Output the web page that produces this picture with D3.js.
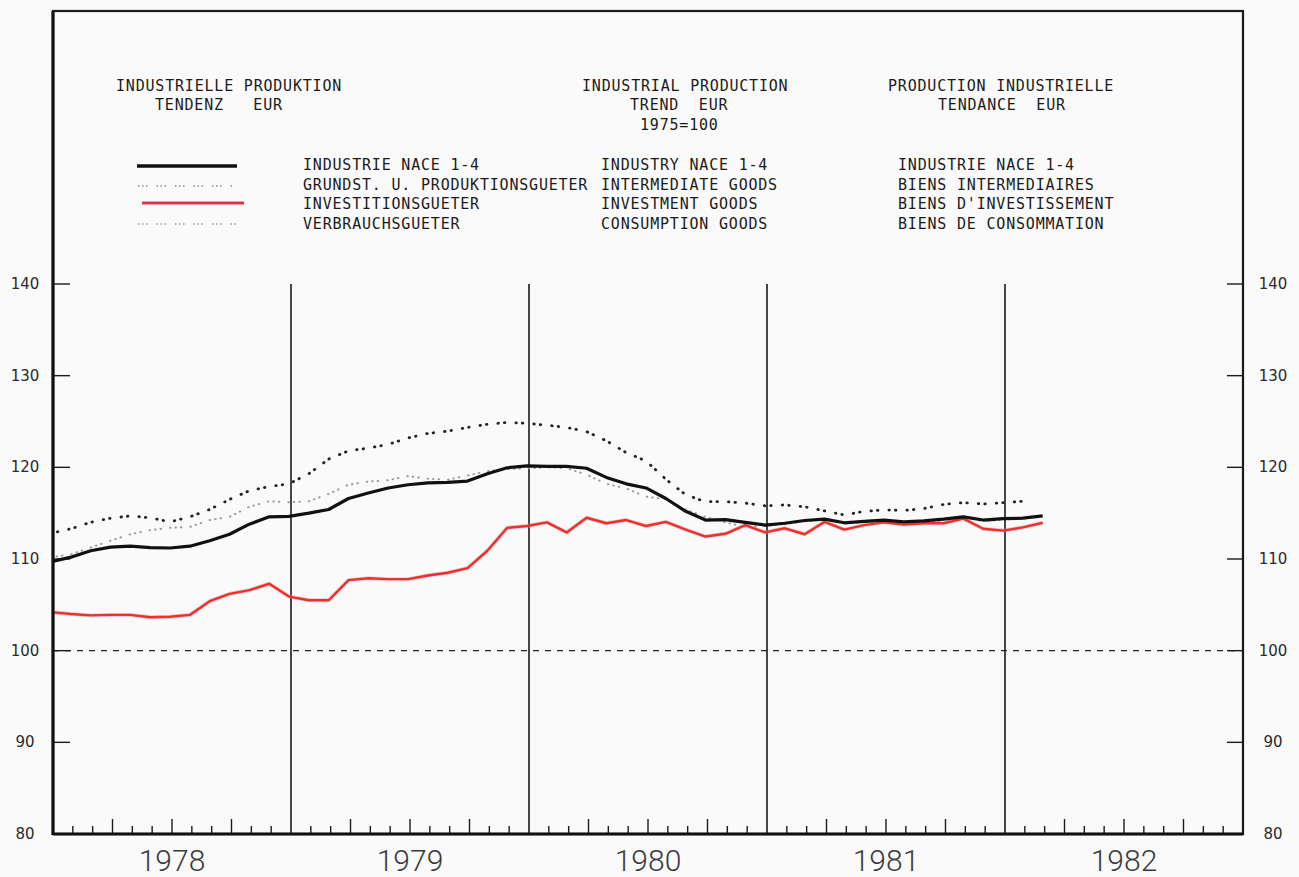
<!DOCTYPE html>
<html>
<head>
<meta charset="utf-8">
<script src="https://cdn.jsdelivr.net/npm/d3@7/dist/d3.min.js"></script>
<style>
  html, body { margin: 0; padding: 0; background: #fafafa; }
  svg { display: block; }
</style>
</head>
<body>
<svg id="chart" width="1299" height="877"></svg>
<script>
// ---------------- DATA ----------------
// Monthly trend index values, Jan 1978 (month 0) .. Mar 1982 (month 50), 1975=100
const industry = [
  109.7,110.2,110.9,111.3,111.4,111.25,111.2,111.4,112.0,112.7,113.8,114.6,
  114.65,115.0,115.4,116.6,117.2,117.75,118.1,118.3,118.35,118.5,119.3,119.95,
  120.15,120.1,120.1,119.9,118.9,118.2,117.75,116.6,115.2,114.25,114.3,114.0,
  113.7,113.9,114.2,114.35,113.95,114.1,114.25,114.05,114.15,114.35,114.6,114.25,
  114.4,114.45,114.7
];
const intermediate = [
  112.8,113.3,114.0,114.45,114.7,114.5,114.05,114.6,115.4,116.5,117.45,117.9,
  118.2,119.3,120.9,121.8,122.1,122.5,123.2,123.7,123.95,124.35,124.7,124.9,
  124.8,124.6,124.35,123.9,122.9,121.6,120.7,118.7,117.0,116.25,116.25,116.1,
  115.8,115.9,115.7,115.25,114.8,115.2,115.35,115.3,115.5,115.95,116.15,116.0,
  116.15,116.3,null
];
const investment = [
  104.2,104.0,103.85,103.9,103.9,103.65,103.7,103.9,105.4,106.2,106.6,107.3,
  105.9,105.5,105.5,107.7,107.9,107.8,107.8,108.2,108.5,109.0,110.9,113.4,
  113.6,114.0,112.9,114.5,113.9,114.25,113.6,114.05,113.2,112.45,112.75,113.7,
  112.9,113.35,112.7,114.05,113.2,113.7,114.0,113.75,113.9,113.9,114.4,113.3,
  113.1,113.45,113.95
];
const consumption = [
  110.2,110.5,111.25,112.0,112.7,113.15,113.4,113.5,114.25,114.6,115.7,116.3,
  116.2,116.3,117.1,118.1,118.45,118.6,119.05,118.75,118.65,119.1,119.6,119.8,
  119.9,120.0,119.9,119.2,118.2,117.7,116.8,116.5,115.4,114.6,114.0,113.5,
  113.6,113.8,114.1,114.3,113.9,114.0,114.1,114.0,114.0,114.2,114.6,114.1,
  114.3,114.4,null
];
const years = ["1978","1979","1980","1981","1982"];
const yTicks = [80, 90, 100, 110, 120, 130, 140];

const titleDE = ["INDUSTRIELLE PRODUKTION", "TENDENZ   EUR"];
const titleEN = ["INDUSTRIAL PRODUCTION", "TREND  EUR", "1975=100"];
const titleFR = ["PRODUCTION INDUSTRIELLE", "TENDANCE  EUR"];
const legendDE = ["INDUSTRIE NACE 1-4", "GRUNDST. U. PRODUKTIONSGUETER", "INVESTITIONSGUETER", "VERBRAUCHSGUETER"];
const legendEN = ["INDUSTRY NACE 1-4", "INTERMEDIATE GOODS", "INVESTMENT GOODS", "CONSUMPTION GOODS"];
const legendFR = ["INDUSTRIE NACE 1-4", "BIENS INTERMEDIAIRES", "BIENS D'INVESTISSEMENT", "BIENS DE CONSOMMATION"];

// ---------------- LAYOUT ----------------
const L = 53, R = 1243, T = 11, B = 834;
const svg = d3.select("#chart");
const x = d3.scaleLinear().domain([0, 60]).range([L, R]);
const y = d3.scaleLinear().domain([80, 140]).range([B, 284]);
const shift = -0.1;

const plotFont = "'DejaVu Sans Mono', 'Liberation Mono', monospace";

// clip
svg.append("defs").append("clipPath").attr("id", "clip")
  .append("rect").attr("x", L).attr("y", T).attr("width", R - L).attr("height", B - T);

// 100 reference dashed line
svg.append("line").attr("x1", L).attr("x2", R).attr("y1", y(100)).attr("y2", y(100))
  .attr("stroke", "#222").attr("stroke-width", 1.2).attr("stroke-dasharray", "6,6");

// year separators
[12, 24, 36, 48].forEach(m => {
  svg.append("line").attr("x1", x(m)).attr("x2", x(m)).attr("y1", y(140)).attr("y2", B)
    .attr("stroke", "#1a1a1a").attr("stroke-width", 1.6);
});

// x month ticks
const monthTicks = d3.range(1, 60).filter(m => m % 12 !== 0);
svg.append("g").selectAll("line").data(monthTicks).join("line")
  .attr("x1", d => x(d)).attr("x2", d => x(d))
  .attr("y1", B).attr("y2", d => B - (d % 3 === 0 ? 15 : 8))
  .attr("stroke", "#1a1a1a").attr("stroke-width", 1.4);

// y ticks (inward, both sides)
const inner = yTicks.filter(v => v > 80);
svg.append("g").selectAll("line").data(inner).join("line")
  .attr("x1", L).attr("x2", L + 17).attr("y1", d => y(d)).attr("y2", d => y(d))
  .attr("stroke", "#1a1a1a").attr("stroke-width", 1.4);
svg.append("g").selectAll("line").data(inner).join("line")
  .attr("x1", R).attr("x2", R - 16).attr("y1", d => y(d)).attr("y2", d => y(d))
  .attr("stroke", "#1a1a1a").attr("stroke-width", 1.4);

// y labels
const yl = svg.append("g").attr("font-family", "'DejaVu Sans', sans-serif")
  .attr("font-size", 15).attr("fill", "#2a2a2a").attr("text-anchor", "middle");
yl.selectAll("text.l").data(yTicks).join("text").attr("class", "l")
  .attr("x", 25).attr("y", d => y(d) + 5).text(d => d);
yl.selectAll("text.r").data(yTicks).join("text").attr("class", "r")
  .attr("x", 1273).attr("y", d => y(d) + 5).text(d => d);

// year labels
svg.append("g").selectAll("text").data(years).join("text")
  .attr("x", (d, i) => x(i * 12 + 6)).attr("y", 871)
  .attr("text-anchor", "middle").attr("font-family", "Roboto, 'Liberation Sans', sans-serif")
  .attr("font-weight", 300).attr("font-size", 30).attr("fill", "#3a3a3a").text(d => d);

// series
const line = d3.line()
  .defined(d => d !== null)
  .x((d, i) => x(i + shift))
  .y(d => y(d));

const g = svg.append("g").attr("clip-path", "url(#clip)");
g.append("path").datum(consumption).attr("d", line).attr("fill", "none")
  .attr("stroke", "#9a9a9a").attr("stroke-width", 2).attr("stroke-linecap", "round")
  .attr("stroke-dasharray", "0.5,5,0.5,5,0.5,9");
g.append("path").datum(intermediate).attr("d", line).attr("fill", "none")
  .attr("stroke", "#222").attr("stroke-width", 2.8).attr("stroke-linecap", "round")
  .attr("stroke-dasharray", "0.5,6,0.5,11");
g.append("path").datum(investment).attr("d", line).attr("fill", "none")
  .attr("stroke", "#f07aa0").attr("stroke-width", 4).attr("stroke-opacity", 0.4)
  .attr("stroke-linejoin", "round");
g.append("path").datum(investment).attr("d", line).attr("fill", "none")
  .attr("stroke", "#e6342a").attr("stroke-width", 2.4).attr("stroke-linejoin", "round");
g.append("path").datum(industry).attr("d", line).attr("fill", "none")
  .attr("stroke", "#111").attr("stroke-width", 3.2).attr("stroke-linejoin", "round");

// frame
svg.append("rect").attr("x", L).attr("y", T).attr("width", R - L).attr("height", B - T)
  .attr("fill", "none").attr("stroke", "#1a1a1a").attr("stroke-width", 2.2);
svg.append("line").attr("x1", L).attr("x2", L).attr("y1", T).attr("y2", B + 1)
  .attr("stroke", "#111").attr("stroke-width", 3.2);
svg.append("line").attr("x1", L).attr("x2", R).attr("y1", B).attr("y2", B)
  .attr("stroke", "#111").attr("stroke-width", 3);

// titles
const tg = svg.append("g").attr("font-family", plotFont).attr("font-size", 15)
  .attr("letter-spacing", "0.8px").attr("fill", "#1a1a1a");
function block(lines, xs, ys) {
  lines.forEach((t, i) => {
    tg.append("text").attr("x", xs[i]).attr("y", ys[i]).attr("xml:space", "preserve")
      .style("white-space", "pre").text(t);
  });
}
block(titleDE, [116, 155], [91, 110]);
block(titleEN, [582, 630, 640], [91, 110, 130]);
block(titleFR, [888, 938], [91, 110]);

const legY = [170, 190, 209, 229];
block(legendDE, [303, 303, 303, 303], legY);
block(legendEN, [601, 601, 601, 601], legY);
block(legendFR, [898, 898, 898, 898], legY);

// legend samples
const lg = svg.append("g");
lg.append("line").attr("x1", 137).attr("x2", 237).attr("y1", 166).attr("y2", 166)
  .attr("stroke", "#111").attr("stroke-width", 3.6);
lg.append("line").attr("x1", 138).attr("x2", 233).attr("y1", 186).attr("y2", 186)
  .attr("stroke", "#8a8a8a").attr("stroke-width", 1.6)
  .attr("stroke-dasharray", "1.5,2.5,1.5,2.5,1.5,9");
lg.append("line").attr("x1", 142).attr("x2", 244).attr("y1", 203).attr("y2", 203)
  .attr("stroke", "#f07aa0").attr("stroke-width", 4).attr("stroke-opacity", 0.5);
lg.append("line").attr("x1", 142).attr("x2", 244).attr("y1", 203).attr("y2", 203)
  .attr("stroke", "#e0304a").attr("stroke-width", 2.6);
lg.append("line").attr("x1", 138).attr("x2", 236).attr("y1", 224).attr("y2", 224)
  .attr("stroke", "#b0b0b0").attr("stroke-width", 1.8)
  .attr("stroke-dasharray", "1.5,2.5,1.5,2.5,1.5,9");
</script>
</body>
</html>
